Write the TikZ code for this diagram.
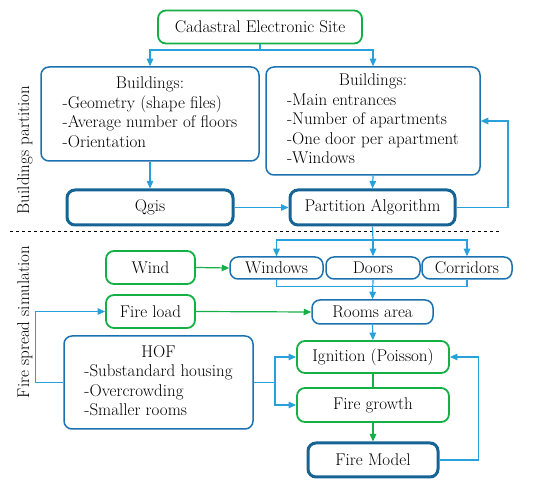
\documentclass[tikz,border=0pt]{standalone}
\usetikzlibrary{arrows.meta}

\begin{document}
\begin{tikzpicture}[x=1pt, y=-1pt, >={Triangle[length=7.5pt,width=6.5pt]},
    font=\fontsize{17}{19.5}\selectfont,
    box/.style={draw=boxblue, line width=1.5pt, rounded corners=8pt, align=center, inner sep=0pt},
    gbox/.style={box, draw=fgreen, line width=1.8pt},
    tbox/.style={box, draw=darkblue, line width=3pt},
    arr/.style={->, draw=lineblue, line width=1.2pt},
    garr/.style={->, draw=fgreen, line width=1.2pt}]

    % Colours
    \definecolor{boxblue}{RGB}{28,114,176}
    \definecolor{darkblue}{RGB}{22,100,150}
    \definecolor{lineblue}{RGB}{40,160,220}
    \definecolor{fgreen}{RGB}{20,176,70}

    \useasboundingbox (0,0) rectangle (550,484);

    % Buildings partition
    \node[gbox, minimum width=204pt, minimum height=33pt] (cad) at (260,27) {Cadastral Electronic Site};
    \node[box, minimum width=218pt, minimum height=94pt] (bl) at (150,114)
        {\begin{tabular}{@{}l@{}}\multicolumn{1}{c}{Buildings:}\\-Geometry (shape files)\\-Average number of floors\\-Orientation\end{tabular}};
    \node[box, minimum width=214pt, minimum height=108pt] (br) at (373,121)
        {\begin{tabular}{@{}l@{}}\multicolumn{1}{c}{Buildings:}\\-Main entrances\\-Number of apartments\\-One door per apartment\\-Windows\end{tabular}};
    \node[tbox, minimum width=166pt, minimum height=35pt] (qgis) at (150,207.5) {Qgis};
    \node[tbox, minimum width=165pt, minimum height=35pt] (part) at (372.5,207.5) {Partition Algorithm};

    \coordinate (s1) at (260,50);
    \draw[draw=lineblue, line width=1.2pt] (cad.south) -- (s1);
    \draw[arr] (s1) -| (bl.north);
    \draw[arr] (s1) -| (br.north);
    \draw[arr] (bl.south) -- (qgis.north);
    \draw[arr] (br.south) -- (part.north);
    \draw[arr] (qgis.east) -- (part.west);
    \coordinate (fb1) at (508,121);
    \draw[arr] (part.east) -| (fb1) -- (br.east);

    % Separatore
    \draw[dashed, line width=1pt] (10,232) -- (500,232);

    % Fire spread simulation
    \node[box, minimum width=93pt, minimum height=22pt] (win) at (276.5,268) {Windows};
    \node[box, minimum width=94pt, minimum height=22pt] (doors) at (373,268) {Doors};
    \node[box, minimum width=90pt, minimum height=22pt] (cor) at (467,268) {Corridors};
    \node[gbox, minimum width=89pt, minimum height=33pt] (wind) at (150.5,267.5) {Wind};
    \node[gbox, minimum width=89pt, minimum height=33pt] (fload) at (150.5,311.5) {Fire load};
    \node[box, minimum width=121pt, minimum height=24pt] (rooms) at (372.5,312) {Rooms area};
    \node[box, minimum width=189pt, minimum height=93pt] (hof) at (158.5,382.5)
        {\begin{tabular}{@{}l@{}}\multicolumn{1}{c}{HOF}\\-Substandard housing\\-Overcrowding\\-Smaller rooms\end{tabular}};
    \node[gbox, minimum width=152pt, minimum height=32pt] (ign) at (373,357) {Ignition (Poisson)};
    \node[gbox, minimum width=152pt, minimum height=34pt] (grow) at (373,405) {Fire growth};
    \node[tbox, minimum width=130pt, minimum height=34pt] (fmodel) at (373,460) {Fire Model};

    \coordinate (s2) at (373,240);
    \draw[draw=lineblue, line width=1.2pt] (part.south) -- (s2);
    \draw[arr] (s2) -| (win.north);
    \draw[arr] (s2) -- (doors.north);
    \draw[arr] (s2) -| (cor.north);
    \draw[draw=lineblue, line width=1.2pt] (win.south) -- ++(0,7) -| (cor.south);
    \draw[arr] (doors.south) -- (rooms.north);
    \draw[garr] (wind.east) -- (win.west);
    \draw[garr] (fload.east) -- (rooms.west);
    \draw[arr] (hof.west) -- ++(-28,0) |- (fload.west);
    \draw[arr] (rooms.south) -- (ign.north);
    \draw[draw=fgreen, line width=1.2pt] (ign.south) -- (grow.north);
    \draw[garr] (grow.south) -- (fmodel.north);
    \coordinate (s3) at (275,382.5);
    \draw[draw=lineblue, line width=1.2pt] (hof.east) -- (s3);
    \draw[arr] (s3) |- (ign.west);
    \draw[arr] (s3) |- (grow.west);
    \draw[arr] (fmodel.east) -- ++(39,0) |- (ign.east);

    % Etichette laterali
    \node[rotate=90] (lab1) at (25,150) {Buildings partition};
    \node[rotate=90] (lab2) at (25,322) {Fire spread simulation};

\end{tikzpicture}
\end{document}
